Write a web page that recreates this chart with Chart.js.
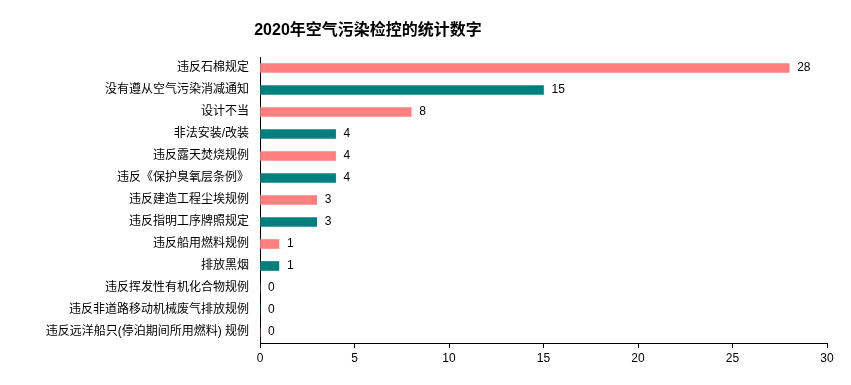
<!DOCTYPE html>
<html>
<head>
<meta charset="utf-8">
<script src="https://cdn.jsdelivr.net/npm/chart.js@4/dist/chart.umd.min.js"></script>
<style>
html,body{margin:0;padding:0;background:#fff;}
#wrap{position:relative;width:851px;height:385px;}
#title{position:absolute;left:0;top:16px;width:736px;text-align:center;
    font:bold 16px "Liberation Sans","Noto Sans CJK SC",sans-serif;color:#000;}
</style>
</head>
<body>
<div id="wrap">
    <div id="title">2020年空气污染检控的统计数字</div>
    <canvas id="chart" width="851" height="385"></canvas>
</div>
<script>

const categories = [
    "违反石棉规定",
    "没有遵从空气污染消减通知",
    "设计不当",
    "非法安装/改装",
    "违反露天焚烧规例",
    "违反《保护臭氧层条例》",
    "违反建造工程尘埃规例",
    "违反指明工序牌照规定",
    "违反船用燃料规例",
    "排放黑烟",
    "违反挥发性有机化合物规例",
    "违反非道路移动机械废气排放规例",
    "违反远洋船只(停泊期间所用燃料) 规例"
];

const counts = [28, 15, 8, 4, 4, 4, 3, 3, 1, 1, 0, 0, 0];

const xTicks = [0, 5, 10, 15, 20, 25, 30];

const PINK = "#FF7F7F";
const TEAL = "#007F7F";

const FONT = "'Liberation Sans','Noto Sans CJK SC',sans-serif";

// value labels at the end of each bar
const valueLabels = {
    id: "valueLabels",
    afterDatasetsDraw(chart){
        const ctx = chart.ctx;
        const meta = chart.getDatasetMeta(0);
        ctx.save();
        ctx.font = "12px " + FONT;
        ctx.fillStyle = "#000";
        ctx.textAlign = "left";
        ctx.textBaseline = "middle";
        meta.data.forEach((bar, i)=>{
            ctx.fillText(String(counts[i]), bar.x + 8, bar.y);
        });
        ctx.restore();
    }
};

new Chart(document.getElementById("chart").getContext("2d"), {
    type: "bar",
    data: {
        labels: categories,
        datasets: [{
            data: counts,
            backgroundColor: counts.map((v, i)=> i % 2 === 0 ? PINK : TEAL),
            borderWidth: 0,
            barThickness: 9
        }]
    },
    options: {
        indexAxis: "y",
        responsive: false,
        animation: false,
        layout: {
            padding: {top: 57, right: 24, bottom: 0, left: 0}
        },
        plugins: {
            legend: {display: false},
            tooltip: {enabled: false},
            title: {display: false}
        },
        scales: {
            x: {
                min: 0,
                max: 30,
                afterBuildTicks: scale=>{
                    scale.ticks = xTicks.map(v=>({value: v}));
                },
                afterFit: scale=>{
                    scale.height = 42;
                },
                grid: {
                    display: true,
                    drawOnChartArea: false,
                    drawTicks: true,
                    tickLength: 5,
                    color: "#000"
                },
                border: {display: true, color: "#000", width: 1},
                ticks: {
                    color: "#000",
                    padding: 3,
                    maxRotation: 0,
                    font: {family: FONT, size: 12}
                }
            },
            y: {
                afterFit: scale=>{
                    scale.width = 260;
                },
                grid: {display: false},
                border: {display: true, color: "#000", width: 1},
                ticks: {
                    color: "#000",
                    padding: 3,
                    autoSkip: false,
                    font: {family: FONT, size: 12}
                }
            }
        }
    },
    plugins: [valueLabels]
});
</script>
</body>
</html>
